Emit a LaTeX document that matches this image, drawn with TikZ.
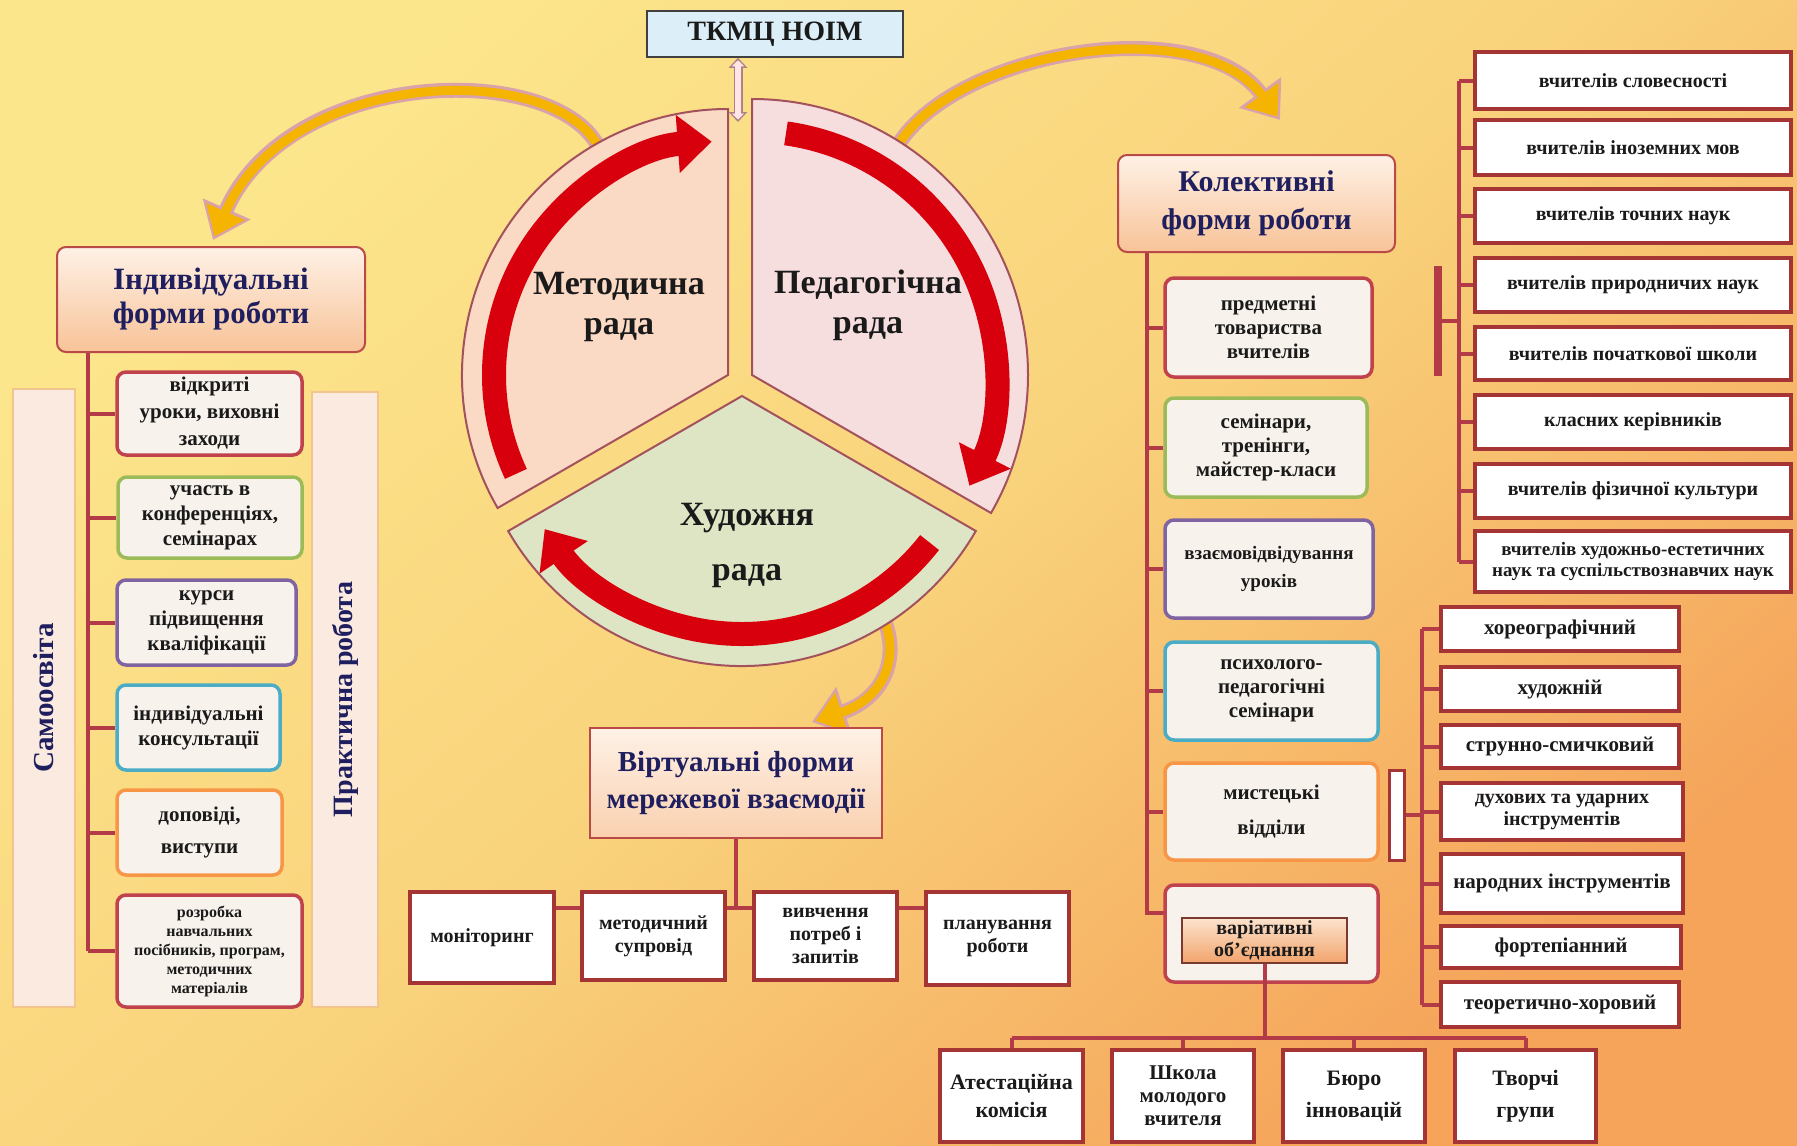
\documentclass[tikz,border=0pt]{standalone}
\usepackage{fontspec}
\setmainfont{Liberation Serif}
\usetikzlibrary{arrows.meta}
\definecolor{bgA}{HTML}{FCE68C}
\definecolor{bgB}{HTML}{F9D37C}
\definecolor{bgC}{HTML}{F5A45A}
\definecolor{lineC}{HTML}{B33B48}
\definecolor{boxB}{HTML}{A53434}
\definecolor{redB}{HTML}{C0424C}
\definecolor{greenB}{HTML}{9BBB59}
\definecolor{purpleB}{HTML}{8064A2}
\definecolor{blueB}{HTML}{4BACC6}
\definecolor{orangeB}{HTML}{F79646}
\definecolor{navy}{HTML}{1F1F5F}
\definecolor{txt}{HTML}{1A1A1A}
\definecolor{itemF}{HTML}{F8F2EC}
\definecolor{headT}{HTML}{FEF1E6}
\definecolor{headBt}{HTML}{F8C398}
\definecolor{headB}{HTML}{B94A48}
\definecolor{barF}{HTML}{FBEADF}
\definecolor{barD}{HTML}{F3C48E}
\definecolor{secL}{HTML}{FAD9C5}
\definecolor{secR}{HTML}{F7DEDE}
\definecolor{secG}{HTML}{DDE5C5}
\definecolor{secO}{HTML}{A4515E}
\definecolor{redA}{HTML}{D8000C}
\definecolor{gold}{HTML}{F4B400}
\definecolor{pinkO}{HTML}{D9A3A9}
\definecolor{tkF}{HTML}{DCEFF8}
\definecolor{varT}{HTML}{FCE3CE}
\definecolor{varBt}{HTML}{F2A46C}
\definecolor{varD}{HTML}{7A3A30}
\pgfdeclarelayer{back}\pgfdeclarelayer{conns}\pgfsetlayers{back,conns,main}
\newcommand\tfs[2]{\fontsize{#1}{#2}\selectfont\bfseries}
\newcommand\mkbox[7]{\node[#2, minimum width={(#5)-(#3)}, minimum height={(#6)-(#4)}] (#1) at ({((#3)+(#5))/2},{-((#4)+(#6))/2}) {#7};}
\tikzset{
 conn/.style={draw=lineC, line width=4pt},
 ibox/.style={draw=#1, line width=3.5pt, fill=itemF, rounded corners=9pt, align=center, inner sep=1pt, text=txt, font=\tfs{21}{25}},
 lbox/.style={draw=boxB, line width=4pt, fill=white, align=center, inner sep=1pt, text=txt, font=\tfs{20}{23}},
 head/.style={draw=headB, line width=2pt, rounded corners=9pt, top color=headT, bottom color=headBt, align=center, text=navy, font=\tfs{31}{34}},
 sidebar/.style={draw=barD, line width=1.5pt, fill=barF, rotate=90, text=navy, font=\tfs{29}{32}},
 sector/.style={draw=secO, line width=2pt},
 redarrow/.style={draw=redA, line width=24pt, -{Triangle[length=34pt,width=56pt]}},
 yout/.style={draw=pinkO, line width=15pt, -{Triangle[length=34pt,width=50pt]}},
 yin/.style={draw=gold, line width=9pt, shorten >=4pt, -{Triangle[length=27pt,width=40pt]}},
 sectext/.style={text=txt, font=\tfs{34}{40}, align=center},
}
\begin{document}
\begin{tikzpicture}[x=1pt,y=1pt]
\useasboundingbox (0,0) rectangle (1797,-1146);
\begin{pgfonlayer}{back}
\shade[top color=bgA, bottom color=bgC, middle color=bgB, shading angle=40] (0,0) rectangle (1797,-1146);
\end{pgfonlayer}

% ---- central pie ----
\coordinate (LA) at (728,-375);
\coordinate (RA) at (752,-375);
\coordinate (BA) at (742,-396);
\filldraw[sector, fill=secL] (LA) -- ++(210:266) arc[start angle=210, end angle=90, radius=266] -- cycle;
\filldraw[sector, fill=secR] (RA) -- ++(90:276) arc[start angle=90, end angle=-30, radius=276] -- cycle;
\filldraw[sector, fill=secG] (BA) -- ++(330:270) arc[start angle=330, end angle=210, radius=270] -- cycle;
\draw[redarrow] ([shift={(205:234)}]LA) arc[start angle=205, end angle=94, radius=234];
\draw[redarrow] ([shift={(82:244)}]RA) arc[start angle=82, end angle=-27, radius=244];
\draw[redarrow] ([shift={(322:238)}]BA) arc[start angle=322, end angle=214, radius=238];
\node[sectext] (metT) at (619,-307) {Методична\\рада};
\node[sectext] (pedT) at (868,-305) {Педагогічна\\рада};
\node[sectext, font=\tfs{34}{55}] (hudT) at (747,-545) {Художня\\рада};

\mkbox{tkmc}{draw=black!75, line width=1.5pt, fill=tkF, text=txt, font=\tfs{28}{30}}{647}{11}{903}{57}{ТКМЦ НОІМ}
\coordinate (dA) at (738,-122);
\draw[draw=pinkO!80!black, line width=9pt, {Triangle[length=10pt,width=18pt]}-{Triangle[length=10pt,width=18pt]}] (tkmc.south -| dA) -- (dA);
\draw[draw=pink!40, line width=6pt, shorten <=2.5pt, shorten >=2.5pt, {Triangle[length=6pt,width=12pt]}-{Triangle[length=6pt,width=12pt]}] (tkmc.south -| dA) -- (dA);

% ---- left group ----
\mkbox{ind}{head}{57}{247}{365}{352}{Індивідуальні\\форми роботи}
\node[sidebar, minimum width=618, minimum height=62] (samo) at (44,-698) {Самоосвіта};
\node[sidebar, minimum width=615, minimum height=66, font=\tfs{28}{30}] (prak) at (345,-699.5) {Практична робота};
\mkbox{i1}{ibox=redB, font=\tfs{21}{27}}{117}{372}{302}{455}{відкриті\\уроки, виховні\\заходи}
\mkbox{i2}{ibox=greenB}{118}{477}{302}{558}{участь в\\конференціях,\\семінарах}
\mkbox{i3}{ibox=purpleB}{117}{580}{296}{665}{курси\\підвищення\\кваліфікації}
\mkbox{i4}{ibox=blueB}{117}{685}{280}{770}{індивідуальні\\консультації}
\mkbox{i5}{ibox=orangeB, font=\tfs{21}{32}}{117}{790}{282}{875}{доповіді,\\виступи}
\mkbox{i6}{ibox=redB, font=\tfs{16}{19}}{117}{895}{302}{1007}{розробка\\навчальних\\посібників, програм,\\методичних\\матеріалів}

% ---- virtual group ----
\mkbox{virt}{draw=headB, line width=2pt, top color=headT, bottom color=headBt!70!headT, align=center, text=navy, font=\tfs{29}{37}}{590}{728}{882}{838}{Віртуальні форми\\мережевої взаємодії}
\mkbox{v1}{lbox}{410}{892}{554}{983}{моніторинг}
\mkbox{v2}{lbox}{582}{892}{725}{980}{методичний\\супровід}
\mkbox{v3}{lbox}{754}{892}{897}{980}{вивчення\\потреб і\\запитів}
\mkbox{v4}{lbox}{926}{892}{1069}{985}{планування\\роботи}

% ---- right group ----
\mkbox{kol}{head, font=\tfs{30}{38}}{1118}{155}{1395}{252}{Колективні\\форми роботи}
\mkbox{r1}{ibox=redB, font=\tfs{21}{24}}{1165}{278}{1372}{377}{предметні\\товариства\\вчителів}
\mkbox{r2}{ibox=greenB, font=\tfs{21}{24}}{1165}{398}{1367}{497}{семінари,\\тренінги,\\майстер-класи}
\mkbox{r3}{ibox=purpleB, font=\tfs{19}{28}}{1165}{520}{1373}{618}{взаємовідвідування\\уроків}
\mkbox{r4}{ibox=blueB, font=\tfs{21}{24}}{1165}{642}{1378}{740}{психолого-\\педагогічні\\семінари}
\mkbox{r5}{ibox=orangeB, font=\tfs{21}{35}}{1165}{763}{1378}{860}{мистецькі\\відділи}
\mkbox{r6}{ibox=redB}{1165}{885}{1378}{982}{}
\mkbox{var}{draw=varD, line width=2pt, top color=varT, bottom color=varBt, align=center, text=txt, font=\tfs{20}{22}, inner sep=0pt}{1182}{918}{1347}{963}{варіативні\\об'єднання}

\mkbox{a1}{lbox}{1475}{52}{1791}{109}{вчителів словесності}
\mkbox{a2}{lbox}{1475}{120}{1791}{175}{вчителів іноземних мов}
\mkbox{a3}{lbox}{1475}{189}{1791}{243}{вчителів точних наук}
\mkbox{a4}{lbox}{1475}{258}{1791}{312}{вчителів природничих наук}
\mkbox{a5}{lbox}{1475}{327}{1791}{380}{вчителів початкової школи}
\mkbox{a6}{lbox}{1475}{395}{1791}{449}{класних керівників}
\mkbox{a7}{lbox}{1475}{464}{1791}{518}{вчителів фізичної культури}
\mkbox{a8}{lbox, font=\tfs{19}{21}}{1475}{531}{1791}{592}{вчителів художньо-естетичних\\наук та суспільствознавчих наук}
\node[fill=lineC, minimum width=8, minimum height=110, inner sep=0pt] (bara) at (1438,-321) {};

\mkbox{b1}{lbox, font=\tfs{21}{23}}{1441}{607}{1679}{651}{хореографічний}
\mkbox{b2}{lbox, font=\tfs{21}{23}}{1441}{667}{1679}{711}{художній}
\mkbox{b3}{lbox, font=\tfs{21}{23}}{1441}{725}{1679}{768}{струнно-смичковий}
\mkbox{b4}{lbox, font=\tfs{20}{22}}{1441}{783}{1683}{840}{духових та ударних\\інструментів}
\mkbox{b5}{lbox, font=\tfs{21}{23}}{1441}{854}{1683}{913}{народних інструментів}
\mkbox{b6}{lbox, font=\tfs{21}{23}}{1441}{926}{1681}{968}{фортепіанний}
\mkbox{b7}{lbox, font=\tfs{21}{23}}{1441}{982}{1679}{1027}{теоретично-хоровий}
\mkbox{barb}{draw=boxB, line width=3pt, fill=white, inner sep=0pt}{1389}{770}{1404}{860}{}

\mkbox{c1}{lbox, font=\tfs{22}{28}}{940}{1050}{1083}{1142}{Атестаційна\\комісія}
\mkbox{c2}{lbox, font=\tfs{21}{23}}{1112}{1050}{1254}{1142}{Школа\\молодого\\вчителя}
\mkbox{c3}{lbox, font=\tfs{22}{32}}{1283}{1050}{1425}{1142}{Бюро\\інновацій}
\mkbox{c4}{lbox, font=\tfs{22}{32}}{1455}{1050}{1596}{1142}{Творчі\\групи}

\coordinate (busC) at (0,-1038);
\draw[conn] (var.south) -- (var.south |- busC);

% ---- connectors ----
\begin{pgfonlayer}{conns}
\coordinate (y1s) at (600,-150); \coordinate (y1e) at (213,-240);
\draw[yout] (y1s) .. controls (560,-60) and (290,-65) .. (y1e);
\draw[yin] (y1s) .. controls (560,-60) and (290,-65) .. (y1e);
\coordinate (y2s) at (895,-150); \coordinate (y2e) at (1280,-120);
\draw[yout] (y2s) .. controls (950,-50) and (1200,-10) .. (y2e);
\draw[yin] (y2s) .. controls (950,-50) and (1200,-10) .. (y2e);
\coordinate (y3s) at (880,-610); \coordinate (y3e) at (812,-722);
\draw[yout] (y3s) .. controls (905,-660) and (880,-700) .. (y3e);
\draw[yin] (y3s) .. controls (905,-660) and (880,-700) .. (y3e);

\coordinate (tL) at (88,0);
\draw[conn] (ind.south -| tL) -- (tL |- i6.west);
\foreach \n in {i1,i2,i3,i4,i5,i6} \draw[conn] (tL |- \n.west) -- (\n.west);
\coordinate (tR) at (1147,0);
\coordinate (r6b) at (1165,-913);
\draw[conn] (kol.south -| tR) |- (r6b);
\foreach \n in {r1,r2,r3,r4,r5} \draw[conn] (tR |- \n.west) -- (\n.west);
\coordinate (tA) at (1459,0);
\draw[conn] (tA |- a1.west) -- (tA |- a8.west);
\foreach \n in {a1,a2,a3,a4,a5,a6,a7,a8} \draw[conn] (tA |- \n.west) -- (\n.west);
\draw[conn] (bara.east) -- (bara.east -| tA);
\coordinate (tB) at (1422,0);
\draw[conn] (tB |- b1.west) -- (tB |- b7.west);
\foreach \n in {b1,b2,b3,b4,b5,b6,b7} \draw[conn] (tB |- \n.west) -- (\n.west);
\draw[conn] (barb.east) -- (barb.east -| tB);
\draw[conn] (c1.north |- busC) -- (c4.north |- busC);
\foreach \n in {c1,c2,c3,c4} \draw[conn] (\n.north |- busC) -- (\n.north);
\coordinate (busV) at (0,-908);
\draw[conn] (v1.east |- busV) -- (v4.west |- busV);
\draw[conn] (virt.south) -- (virt.south |- busV);
\end{pgfonlayer}
\end{tikzpicture}
\end{document}
